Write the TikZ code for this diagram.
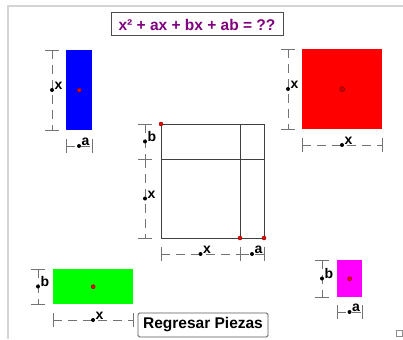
\documentclass[tikz,border=0pt]{standalone}
\usepackage{fontspec}
\setmainfont{Liberation Sans}
\usetikzlibrary{calc}
\definecolor{ggpurple}{HTML}{800080}
\definecolor{ggblue}{HTML}{0000FF}
\definecolor{ggred}{HTML}{FF0000}
\definecolor{gggreen}{HTML}{00FF00}
\definecolor{ggmag}{HTML}{FF00FF}
\newcommand{\myvdim}[5]{%
  \coordinate (#1t) at (#2,#3);
  \coordinate (#1b) at (#2,#4);
  \draw[dimline] (#1t) -- (#1b);
  \draw[dimcap] ([xshift=-7pt]#1t) -- ([xshift=7pt]#1t);
  \draw[dimcap] ([xshift=-7pt]#1b) -- ([xshift=7pt]#1b);
  \node[dimdot] (#1d) at ($(#1t)!0.5!(#1b)$) {};
  \node[lbl, anchor=base west] (#1l) at ([xshift=2.5pt,yshift=0.5pt]#1d.center) {#5};
}
\newcommand{\myhdim}[5]{%
  \coordinate (#1l0) at (#3,#2);
  \coordinate (#1r0) at (#4,#2);
  \draw[dimline] (#1l0) -- (#1r0);
  \draw[dimcap] ([yshift=-7pt]#1l0) -- ([yshift=7pt]#1l0);
  \draw[dimcap] ([yshift=-7pt]#1r0) -- ([yshift=7pt]#1r0);
  \node[dimdot] (#1d) at ($(#1l0)!0.5!(#1r0)$) {};
  \node[lbl, anchor=base west] (#1l) at ([xshift=2.5pt,yshift=0.5pt]#1d.center) {#5};
}
\begin{document}
\begin{tikzpicture}[x=1pt,y=-1pt,
  frameline/.style={draw=black!17, line width=1.5pt},
  dimline/.style={draw=black!55, line width=0.9pt, dash pattern=on 9pt off 6pt},
  dimcap/.style={draw=black!55, line width=0.9pt},
  dimdot/.style={circle, fill=black, inner sep=0pt, minimum size=4pt},
  reddot/.style={circle, fill=ggred, draw=red!45!black, line width=0.4pt, inner sep=0pt, minimum size=4pt},
  lbl/.style={font=\bfseries\fontsize{14}{14}\selectfont, inner sep=0pt},
  piece/.style={draw=none, inner sep=0pt, anchor=north west},
  sq/.style={draw=black!75, line width=0.9pt},
]
\useasboundingbox (0,0) rectangle (403,339);
% frame
\coordinate (fbl) at (8,339);
\coordinate (ftl) at (8,6);
\coordinate (ftr) at (403,6);
\draw[frameline] (fbl) -- (ftl) -- (ftr);
% title
\node[draw=black!70, line width=1pt, fill=white, inner sep=0pt,
      minimum width=172pt, minimum height=23pt, text=ggpurple,
      font=\bfseries\fontsize{15.5}{16}\selectfont] (title) at (197,24.5) {x² + ax + bx + ab = ??};
% blue piece
\node[piece, fill=ggblue, minimum width=26pt, minimum height=80pt] (blue) at (66,50) {};
\node[reddot] (bluedot) at (blue.center) {};
\myvdim{bv}{52}{50}{130}{x}
\myhdim{bh}{146}{66}{92}{a}
% red piece
\node[piece, fill=ggred, minimum width=80pt, minimum height=80pt] (red) at (302,49) {};
\node[reddot, fill=red!80!black, minimum size=5pt] (reddotc) at (red.center) {};
\myvdim{rv}{288}{49}{129}{x}
\myhdim{rh}{145}{302}{382}{x}
% central square
\coordinate (c1) at (161,124);
\coordinate (c2) at (264,238);
\coordinate (cvt) at (240,124);
\coordinate (cvb) at (240,238);
\coordinate (chl) at (161,159);
\coordinate (chr) at (264,159);
\draw[sq] (c1) rectangle (c2);
\draw[sq] (cvt) -- (cvb);
\draw[sq] (chl) -- (chr);
\node[reddot] (cd1) at (c1) {};
\node[reddot] (cd2) at (cvb) {};
\node[reddot] (cd3) at (c2) {};
\myvdim{cb}{145}{124}{159}{b}
\myvdim{cx}{145}{159}{238}{x}
\myhdim{chx}{254}{161}{240}{x}
\myhdim{cha}{254}{240}{264}{a}
% green piece
\node[piece, fill=gggreen, minimum width=80pt, minimum height=35pt] (green) at (53,269) {};
\node[reddot] (greendot) at (green.center) {};
\myvdim{gv}{38}{269}{304}{b}
\myhdim{gh}{320}{53}{133}{x}
% magenta piece
\node[piece, fill=ggmag, minimum width=25pt, minimum height=37pt] (mag) at (337,260) {};
\node[reddot] (magdot) at (mag.center) {};
\myvdim{mv}{322}{260}{297}{b}
\myhdim{mh}{312}{337}{362}{a}
% button
\node[draw=black!65, line width=0.9pt, rounded corners=1.5pt, fill=white, inner sep=0pt,
      minimum width=130pt, minimum height=24pt,
      font=\bfseries\fontsize{15.5}{16}\selectfont] (btn) at (203,325) {Regresar Piezas};
% corner icon
\node[draw=black!45, line width=0.7pt, minimum size=6pt, inner sep=0pt] (icon) at (399,333) {};
\end{tikzpicture}
\end{document}
